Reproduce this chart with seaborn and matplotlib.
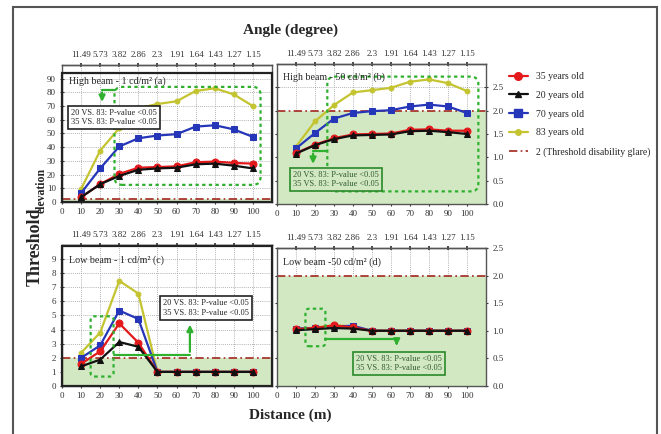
"""Threshold elevation vs distance for four age groups, high/low beam, two luminances."""

import matplotlib.pyplot as plt
import pandas as pd
import seaborn as sns
from matplotlib.lines import Line2D
from matplotlib.patches import FancyBboxPatch, Rectangle

distance = [10, 20, 30, 40, 50, 60, 70, 80, 90, 100]
angle_labels = ["11.49", "5.73", "3.82", "2.86", "2.3", "1.91", "1.64", "1.43", "1.27", "1.15"]
groups = ["83 years old", "70 years old", "35 years old", "20 years old"]

# (a) high beam, 1 cd/m2
a_83 = [9.5, 37.5, 54, 68.5, 71.5, 73.5, 81, 83, 78.5, 70]
a_70 = [6.5, 24.5, 40.5, 46.5, 48.5, 49.5, 55, 56, 53, 47.5]
a_35 = [3.5, 13, 20.5, 25, 25.5, 26, 29, 29.5, 28.5, 28]
a_20 = [3.5, 13, 19, 23.5, 24.5, 25, 27.5, 28, 26.5, 24.5]
# (b) high beam, 50 cd/m2
b_83 = [1.23, 1.77, 2.12, 2.39, 2.44, 2.49, 2.62, 2.67, 2.59, 2.42]
b_70 = [1.19, 1.52, 1.83, 1.95, 1.99, 2.01, 2.09, 2.13, 2.09, 1.95]
b_35 = [1.09, 1.27, 1.41, 1.49, 1.50, 1.51, 1.59, 1.60, 1.57, 1.57]
b_20 = [1.08, 1.26, 1.39, 1.47, 1.48, 1.49, 1.56, 1.57, 1.54, 1.50]
# (c) low beam, 1 cd/m2
c_83 = [2.35, 3.79, 7.46, 6.55, 1, 1, 1, 1, 1, 1]
c_70 = [1.99, 2.88, 5.35, 4.75, 1, 1, 1, 1, 1, 1]
c_35 = [1.58, 2.45, 4.44, 3.07, 1, 1, 1, 1, 1, 1]
c_20 = [1.39, 1.87, 3.12, 2.78, 1, 1, 1, 1, 1, 1]
# (d) low beam, 50 cd/m2
d_83 = [1.03, 1.06, 1.10, 1.08, 1, 1, 1, 1, 1, 1]
d_70 = [1.04, 1.05, 1.08, 1.09, 1, 1, 1, 1, 1, 1]
d_35 = [1.03, 1.05, 1.10, 1.06, 1, 1, 1, 1, 1, 1]
d_20 = [1.01, 1.03, 1.05, 1.04, 1, 1, 1, 1, 1, 1]

threshold = 2
pval_text = "20 VS. 83: P-value <0.05\n35 VS. 83: P-value <0.05"

COLORS = {"35 years old": "#e3191c", "20 years old": "#111111",
          "70 years old": "#2636b8", "83 years old": "#c4c431"}
MARKERS = {"35 years old": "o", "20 years old": "^", "70 years old": "s", "83 years old": "o"}
MSIZE = {"35 years old": 5, "20 years old": 4.5, "70 years old": 5, "83 years old": 3.5}
GREEN = "#2fb02f"
FILL = "#d2e8c3"
THR = "#a3261f"

sns.set_theme(style="white")
plt.rcParams["font.family"] = ["Liberation Serif", "DejaVu Serif"]


def long_frame(series):
    rows = []
    for name, vals in zip(groups, series):
        for d, v in zip(distance, vals):
            rows.append({"distance": d, "value": v, "group": name})
    return pd.DataFrame(rows)


def dashed_box(ax, fig, x0, y0, x1, y1, rounding):
    pos = ax.get_position()
    xl, yl = ax.get_xlim(), ax.get_ylim()
    xpp = (xl[1] - xl[0]) / (pos.width * fig.get_figwidth() * fig.dpi)
    ypp = (yl[1] - yl[0]) / (pos.height * fig.get_figheight() * fig.dpi)
    ax.add_patch(FancyBboxPatch((x0, y0), x1 - x0, y1 - y0,
                                boxstyle=f"round,pad=0,rounding_size={rounding}",
                                mutation_aspect=ypp / xpp, fill=False, ec=GREEN,
                                ls=(0, (1.5, 1.5)), lw=1.6, zorder=4))


def green_arrow(ax, pts):
    xs, ys = zip(*pts[:-1])
    ax.plot(xs, ys, color=GREEN, lw=1.6, zorder=4)
    ax.annotate("", xy=pts[-1], xytext=pts[-2],
                arrowprops=dict(arrowstyle="-|>", color=GREEN, lw=1.6, mutation_scale=9),
                zorder=4)


def draw_panel(ax, series, ylim, yticks, right=False, ticklabels=None):
    ax.set_xlim(0, 110)
    ax.set_ylim(*ylim)
    ax.set_axisbelow(True)
    ax.grid(True, ls=(0, (1, 1.5)), color="#9a9a9a", lw=0.6)
    ax.axhspan(0, threshold, color=FILL, zorder=1, lw=0)
    ax.axhline(threshold, color=THR, ls=(0, (5, 2, 1, 2)), lw=1.2, zorder=2)
    df = long_frame(series)
    for name in groups:
        sns.lineplot(data=df[df.group == name], x="distance", y="value", ax=ax,
                     color=COLORS[name], marker=MARKERS[name], markersize=MSIZE[name],
                     markeredgecolor=COLORS[name], lw=1.6, zorder=3, legend=False)
    ax.set_xlabel("")
    ax.set_ylabel("")
    ax.set_xticks(range(0, 101, 10))
    ax.set_yticks(yticks)
    if ticklabels is not None:
        ax.set_yticklabels(ticklabels)
    ax.tick_params(labelsize=6.5, length=3, direction="inout", width=0.8, pad=3,
                   colors="#333333", bottom=True, left=True)
    if right:
        ax.yaxis.tick_right()
        ax.tick_params(axis="y", right=True, left=True, labelleft=False, labelright=True)
    top = ax.secondary_xaxis("top")
    top.set_xticks(distance, labels=angle_labels)
    top.tick_params(labelsize=6.5, length=3, direction="inout", colors="#333333", pad=3)
    for s in list(ax.spines.values()) + [top.spines["top"]]:
        s.set_color("#555555")
        s.set_linewidth(1.0)


def main():
    fig = plt.figure(figsize=(6.61, 4.34), dpi=100)
    ax_a = fig.add_axes([0.0938, 0.5346, 0.3177, 0.3157])
    ax_b = fig.add_axes([0.419, 0.530, 0.3162, 0.3225])
    ax_c = fig.add_axes([0.0938, 0.1106, 0.3177, 0.325])
    ax_d = fig.add_axes([0.419, 0.1106, 0.3162, 0.318])

    right_labels = ["0.0", "0.5", "1.0", "1.5", "2.0", "2.5"]
    draw_panel(ax_a, [a_83, a_70, a_35, a_20], (0, 100), range(0, 91, 10))
    draw_panel(ax_b, [b_83, b_70, b_35, b_20], (0, 3.0), [0, 0.5, 1, 1.5, 2, 2.5],
               right=True, ticklabels=right_labels)
    draw_panel(ax_c, [c_83, c_70, c_35, c_20], (0, 10), range(0, 10))
    draw_panel(ax_d, [d_83, d_70, d_35, d_20], (0, 2.5), [0, 0.5, 1, 1.5, 2, 2.5],
               right=True, ticklabels=right_labels)

    # panel titles
    ax_a.text(3.5, 88.5, "High beam - 1 cd/m² (a)", fontsize=7.2, va="center", zorder=6)
    ax_b.text(3, 2.72, "High beam - 50 cd/m² (b)", fontsize=7.2, va="center", zorder=6)
    ax_c.text(3.5, 8.95, "Low beam - 1 cd/m² (c)", fontsize=7.2, va="center", zorder=6)
    ax_d.text(3, 2.25, "Low beam -50 cd/m² (d)", fontsize=7.2, va="center", zorder=6)

    # frames around (a) and (c)
    ax_a.add_patch(Rectangle((0, 0), 110, 94, fill=False, ec="#222222", lw=1.6,
                             zorder=5, clip_on=False))
    ax_c.add_patch(Rectangle((0, 0), 110, 9.9, fill=False, ec="#222222", lw=1.6,
                             zorder=5, clip_on=False))

    box_plain = dict(boxstyle="square,pad=0.35", fc="white", ec="#222222", lw=1.2)
    box_green = dict(boxstyle="square,pad=0.35", fc=FILL, ec="#2a8a2a", lw=1.2)

    # (a)
    dashed_box(ax_a, fig, 27.5, 12.5, 104, 84, 4)
    green_arrow(ax_a, [(27.5, 82), (21, 82), (21, 71)])
    ax_a.text(4.5, 61.5, pval_text, fontsize=6, va="center", linespacing=1.25,
              bbox=box_plain, zorder=6)
    # (b)
    dashed_box(ax_b, fig, 26.5, 0.27, 106, 2.73, 4)
    green_arrow(ax_b, [(26.5, 1.14), (19, 1.14), (19, 0.8)])
    ax_b.text(8.5, 0.52, pval_text, fontsize=6, va="center", linespacing=1.25,
              color="#2f5a2f", bbox=box_green, zorder=6)
    # (c)
    dashed_box(ax_c, fig, 15, 0.67, 27, 4.94, 2)
    green_arrow(ax_c, [(27, 2.23), (67, 2.23), (67, 4.55)])
    ax_c.text(53, 5.52, pval_text, fontsize=6, va="center", linespacing=1.25,
              bbox=box_plain, zorder=6)
    # (d)
    dashed_box(ax_d, fig, 15, 0.72, 25.5, 1.40, 2)
    green_arrow(ax_d, [(25.5, 0.86), (63, 0.86), (63, 0.68)])
    ax_d.text(41.5, 0.41, pval_text, fontsize=6, va="center", linespacing=1.25,
              color="#2f5a2f", bbox=box_green, zorder=6)

    # legend
    handles = [Line2D([], [], color=COLORS[n], marker=MARKERS[n], markersize=MSIZE[n] + 0.5,
                      lw=1.6, label=n)
               for n in ["35 years old", "20 years old", "70 years old", "83 years old"]]
    handles.append(Line2D([], [], color=THR, ls=(0, (5, 2, 1, 2)), lw=1.2,
                          label="2 (Threshold disability glare)"))
    fig.legend(handles=handles, loc="upper left", bbox_to_anchor=(0.762, 0.845),
               frameon=False, fontsize=7, handlelength=2.0, labelspacing=1.0,
               borderpad=0, handletextpad=0.8)

    # axis titles
    fig.text(0.439, 0.930, "Angle (degree)", fontsize=11, fontweight="bold",
             ha="center", va="center")
    fig.text(0.439, 0.044, "Distance (m)", fontsize=11, fontweight="bold",
             ha="center", va="center")
    fig.text(0.053, 0.431, "Threshold", fontsize=13, fontweight="bold",
             rotation=90, ha="center", va="center")
    fig.text(0.063, 0.562, "elevation", fontsize=8.5, fontweight="bold",
             rotation=90, ha="center", va="center")

    # outer frame
    fig.add_artist(Rectangle((13 / 661, -0.02), 644 / 661, 1.02 - 7 / 434, fill=False,
                             ec="#555555", lw=1.5, transform=fig.transFigure))

    fig.savefig("out.png", dpi=100)
    plt.close(fig)


if __name__ == "__main__":
    main()
